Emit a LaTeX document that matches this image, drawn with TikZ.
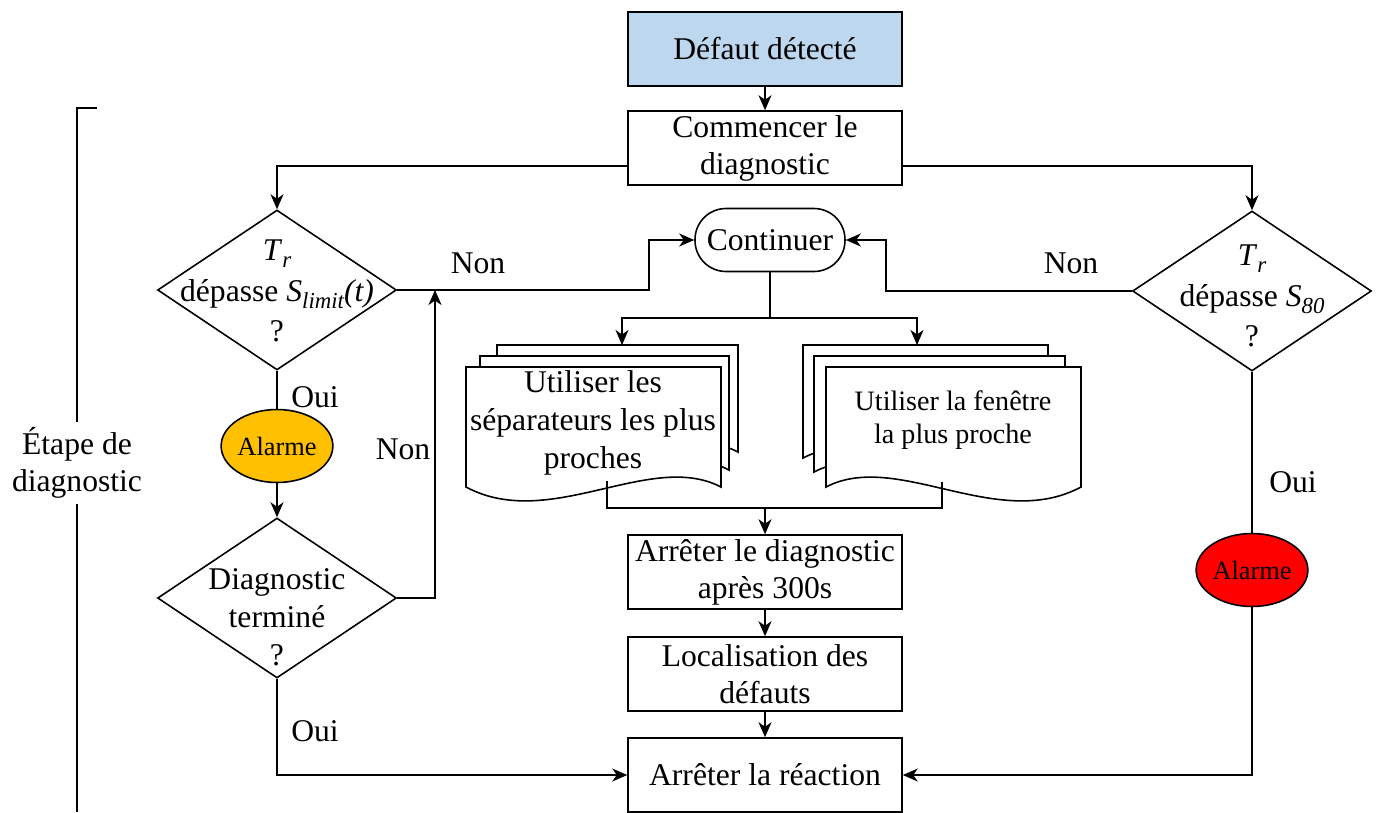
\documentclass[tikz,border=0pt]{standalone}
\usepackage{fontspec}
\setmainfont{Liberation Serif}
\usetikzlibrary{arrows.meta, shapes.geometric, calc}
\definecolor{BlueFill}{HTML}{BDD7EE}
\definecolor{AlarmOrange}{HTML}{FFC000}
\definecolor{AlarmRed}{HTML}{FF0000}
\newcommand{\lowsub}[1]{\raisebox{-0.5ex}{\fontsize{13}{13}\selectfont\itshape #1}}
\tikzset{
  pbox/.style={draw, line width=0.9pt, align=center, minimum width=5.48cm,
    minimum height=1.48cm, inner sep=2pt, font=\fontsize{18}{21}\selectfont},
  decision/.style={draw, diamond, line width=0.9pt, minimum width=4.78cm,
    minimum height=3.2cm, inner sep=0pt},
  dtext/.style={align=center, inner sep=0pt, font=\fontsize{18}{21.5}\selectfont},
  alarm/.style={draw, ellipse, line width=0.9pt, minimum width=2cm,
    minimum height=1.46cm, inner sep=0pt, font=\fontsize{15}{16}\selectfont},
  term/.style={draw, rounded corners=0.62cm, line width=0.9pt, minimum width=3cm,
    minimum height=1.26cm, inner sep=2pt, font=\fontsize{18}{21}\selectfont},
  sheet/.style={draw, fill=white, line width=0.9pt},
  lbl/.style={inner sep=0pt, font=\fontsize{18}{21}\selectfont},
  flow/.style={-{Stealth[length=3mm, width=2.6mm, inset=0.9mm]}, line width=0.9pt},
  link/.style={line width=0.9pt},
}
\begin{document}
\begin{tikzpicture}[x=0.02cm, y=-0.02cm]
    \useasboundingbox (0,0) rectangle (1376,812);
    % main column
    \node[pbox, fill=BlueFill] (detect) at (765,49) {Défaut détecté};
    \node[pbox] (start) at (765,148) {Commencer le\\diagnostic};
    \node[term] (cont) at (770,240) {Continuer};
    \node[pbox] (stopdiag) at (765,572) {Arrêter le diagnostic\\après 300s};
    \node[pbox] (local) at (765,674) {Localisation des\\défauts};
    \node[pbox] (stop) at (765,775) {Arrêter la réaction};
    % decisions
    \node[decision] (limA) at (277,290) {};
    \node[dtext, font=\fontsize{18}{23}\selectfont] (limAt) at (277,291)
      {\textit{T}\lowsub{r}\\dépasse \textit{S}\lowsub{limit}\textit{(t)}\\?};
    \node[decision] (limB) at (1252,291) {};
    \node[dtext, font=\fontsize{18}{23}\selectfont] (limBt) at (1252,296)
      {\textit{T}\lowsub{r}\\dépasse \textit{S}\lowsub{80}\\?};
    \node[decision] (doneA) at (277,598) {};
    \node[dtext] (doneAt) at (277,617) {Diagnostic\\terminé\\?};
    \node[alarm, fill=AlarmOrange] (alarmA) at (277,446) {Alarme};
    \node[alarm, fill=AlarmRed] (alarmB) at (1252,570) {Alarme};
    % stacked documents
    \foreach \l/\r/\t/\b in {497/738/345/452, 480/729/356/470, 466/721/367/487}
      \draw[sheet] (\l,\t) -- (\r,\t) -- (\r,\b) .. controls +(-71,-37) and +(84,45) .. (\l,\b) -- cycle;
    \foreach \l/\r/\t/\b in {803/1048/345/458, 814/1065/356/472, 826/1081/367/487}
      \draw[sheet] (\l,\t) -- (\r,\t) -- (\r,\b) .. controls +(-84,45) and +(71,-37) .. (\l,\b) -- cycle;
    \node[dtext] (docA) at (593,423) {Utiliser les\\séparateurs les plus\\proches};
    \node[dtext, font=\fontsize{16}{18.7}\selectfont] (docB) at (953,420) {Utiliser la fenêtre\\la plus proche};
    \coordinate (docAin) at (622,345);
    \coordinate (docBin) at (917,345);
    \coordinate (docAout) at (607,481);
    \coordinate (docBout) at (942,482);
    \coordinate (split) at (770,318);
    \coordinate (merge) at (765,508);
    \coordinate (backA) at (435,290);
    % labels
    \node[lbl] (nonA) at (478,263) {Non};
    \node[lbl] (nonB) at (1071,263) {Non};
    \node[lbl] (nonC) at (403,449) {Non};
    \node[lbl] (ouiA) at (315,397) {Oui};
    \node[lbl] (ouiB) at (1293,482) {Oui};
    \node[lbl] (ouiC) at (315,731) {Oui};
    % connectors
    \draw[flow] (detect) -- (start);
    \draw[flow] ([yshift=0.4cm]start.south west) -| (limA.north);
    \draw[flow] ([yshift=0.4cm]start.south east) -| (limB.north);
    \draw[flow] (limA.east) -| ([xshift=-0.9cm]cont.west) -- (cont.west);
    \draw[flow] (limB.west) -| ([xshift=0.8cm]cont.east) -- (cont.east);
    \draw[link] (cont.south) -- (split);
    \draw[flow] (split) -| (docAin);
    \draw[flow] (split) -| (docBin);
    \draw[link] (docAout) |- (merge);
    \draw[link] (docBout) |- (merge);
    \draw[flow] (merge) -- (stopdiag.north);
    \draw[flow] (stopdiag) -- (local);
    \draw[flow] (local) -- (stop);
    \draw[link] (limA.south) -- (alarmA.north);
    \draw[flow] (alarmA.south) -- (doneA.north);
    \draw[flow] (doneA.east) -| (backA);
    \draw[flow] (doneA.south) |- (stop.west);
    \draw[link] (limB.south) -- (alarmB.north);
    \draw[flow] (alarmB.south) |- (stop.east);
    % stage bracket
    \node[lbl, align=center, inner sep=3pt] (etape) at (77,463) {Étape de\\diagnostic};
    \coordinate (brTop) at (97,108);
    \coordinate (brBot) at (77,812);
    \draw[link] (brTop) -- (brTop -| etape.north) -- (etape.north);
    \draw[link] (etape.south) -- (brBot);
\end{tikzpicture}
\end{document}
